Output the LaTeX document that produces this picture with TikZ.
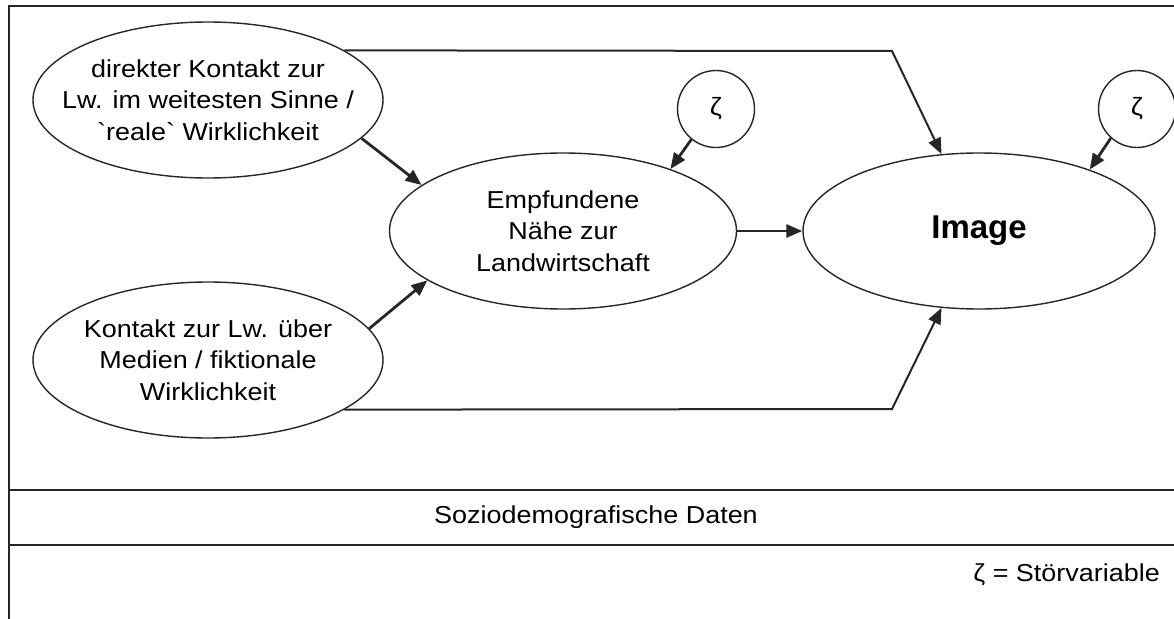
\documentclass[tikz,border=0pt]{standalone}
\usepackage{fontspec}
\setmainfont{Liberation Sans}
\newfontfamily\widesans[FakeStretch=1.1]{Liberation Sans}
\usetikzlibrary{shapes.geometric,arrows.meta}
\begin{document}
\begin{tikzpicture}[x=1pt,y=-1pt,
  frame/.style={line width=1.5pt,draw=black!85},
  ell/.style={ellipse,draw=black!85,line width=1.4pt,inner xsep=-50pt,inner ysep=-25pt,align=center,
    minimum width=350pt,minimum height=156pt,font=\widesans\fontsize{24.5}{31.5}\selectfont},
  zeta/.style={circle,draw=black!85,line width=1.4pt,inner sep=0pt,minimum size=77pt,
    font=\widesans\fontsize{25}{28}\selectfont},
  arr/.style={line width=2.8pt,draw=black!85,-{Triangle[length=16pt,width=13pt]}},
  path/.style={line width=2pt,draw=black!85,-{Triangle[length=16pt,width=13pt]}},
  lbl/.style={font=\widesans\fontsize{24.5}{28}\selectfont,inner sep=0pt}]
\useasboundingbox (0,0) rectangle (1174,618);
% frame
\draw[frame] (9,620) -- (9,6) -- (1176,6);
\draw[frame] (9,490) -- (1176,490);
\draw[frame] (9,545) -- (1176,545);
% nodes
\node[ell] (e1) at (208,100) {direkter Kontakt zur\\Lw. im weitesten Sinne /\\`reale` Wirklichkeit};
\node[ell] (e2) at (208,360) {Kontakt zur Lw. über\\Medien / fiktionale\\Wirklichkeit};
\node[ell,minimum width=347pt] (emp) at (563,231) {Empfundene\\Nähe zur\\Landwirtschaft};
\node[ell,minimum width=352pt,font=\fontsize{33}{36}\selectfont\bfseries] (img) at (979,231) {Image};
\node[zeta] (z1) at (716,109) {ζ};
\node[zeta] (z2) at (1137,109) {ζ};
\node[lbl] (soz) at (596,517) {Soziodemografische Daten};
\node[lbl,anchor=east] (leg) at (1160,575) {ζ = Störvariable};
% connectors
\coordinate (tc) at (892,51);
\coordinate (bc) at (892,409);
\draw[path] (e1.20) -- (tc) -- (img.116);
\draw[path] (e2.-20) -- (bc) -- (img.-116);
\draw[arr] (e1.-14) -- (emp.162);
\draw[arr] (e2.11) -- (emp.-160);
\draw[arr] (emp.east) -- (img.west);
\draw[arr] (z1.231) -- (emp.30);
\draw[arr] (z2.228) -- (img.29);
\end{tikzpicture}
\end{document}
